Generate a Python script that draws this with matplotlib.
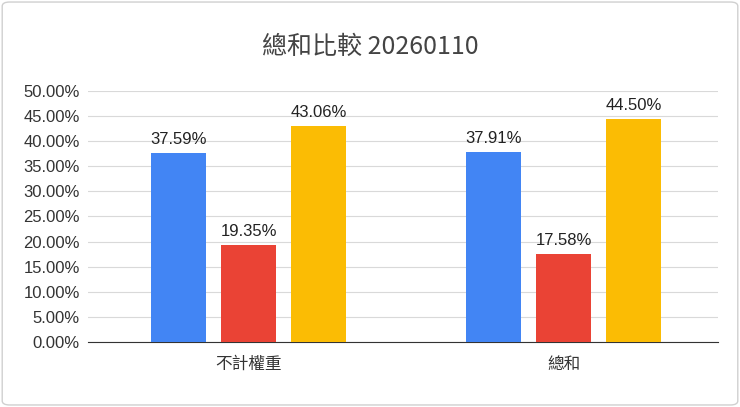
import matplotlib
matplotlib.use("Agg")
import matplotlib.pyplot as plt
import numpy as np

plt.rcParams['font.family'] = ['Liberation Sans', 'Noto Sans CJK TC', 'DejaVu Sans']

categories = ["不計權重", "總和"]
series_a = [37.59, 37.91]
series_b = [19.35, 17.58]
series_c = [43.06, 44.50]
yticks = [0, 5, 10, 15, 20, 25, 30, 35, 40, 45, 50]
colors = ["#4285F4", "#EA4335", "#FBBC04"]

fig = plt.figure(figsize=(7.4, 4.07), dpi=100)
ax = fig.add_axes([88/740, 1-342/407, 630/740, (342-91)/407])
x = np.arange(len(categories))
w = 55/315
off = 70/315
for i, (vals, c) in enumerate(zip([series_a, series_b, series_c], colors)):
    pos = x + (i-1)*off + 3/315
    ax.bar(pos, vals, width=w, color=c, zorder=3)
    for p, v in zip(pos, vals):
        ax.text(p, v+1.2, f"{v:.2f}%", ha='center', va='bottom', fontsize=12, color='#222222')
ax.set_xlim(-0.5, 1.5)
ax.set_ylim(0, 50)
ax.set_yticks(yticks)
ax.set_yticklabels([f"{t:.2f}%" for t in yticks], fontsize=12, color='#333333')
ax.set_xticks(x + 3/315)
ax.set_xticklabels(categories, fontsize=12, color='#333333', family=['Noto Sans CJK TC'])
ax.tick_params(length=0, pad=6)
ax.tick_params(axis='x', pad=10)
ax.grid(axis='y', color='#d9d9d9', lw=0.8, zorder=0)
for s in ['top', 'right', 'left']:
    ax.spines[s].set_visible(False)
ax.spines['bottom'].set_color('#333333')
fig.text(370/740, 1-47/407, "總和比較 20260110", ha='center', va='center', fontsize=18, color='#444444',
         family=['Noto Sans CJK TC'])
fig.patches.append(matplotlib.patches.FancyBboxPatch((0.003, 0.005), 0.994, 0.99, boxstyle="round,pad=0,rounding_size=0.01",
    transform=fig.transFigure, fill=False, edgecolor='#d0d0d0', lw=1))
fig.savefig("out.png", dpi=100)
